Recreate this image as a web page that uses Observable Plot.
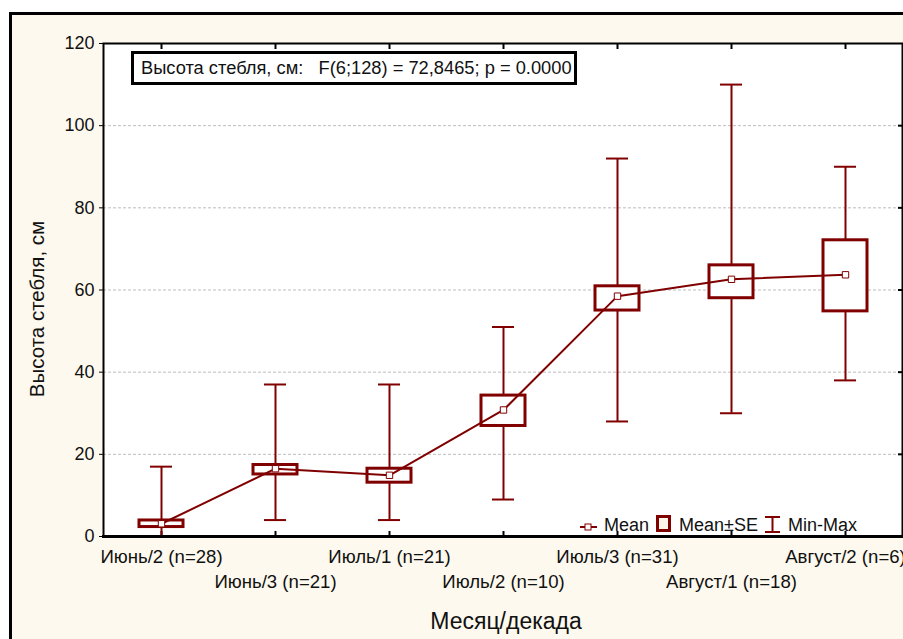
<!DOCTYPE html>
<html>
<head>
<meta charset="utf-8">
<script src="https://cdn.jsdelivr.net/npm/d3@7"></script>
<script src="https://cdn.jsdelivr.net/npm/@observablehq/plot@0.6"></script>
<style>
  html, body { margin: 0; padding: 0; background: #ffffff; }
  #wrap { position: relative; width: 903px; height: 639px; overflow: hidden; font-family: "Liberation Sans", Arial, sans-serif; }
  #backdrop { position: absolute; left: 9px; top: 12px; right: -10px; bottom: -10px; background: #fdf9ee; border-left: 3px solid #000; border-top: 3px solid #000; }
  #chart { position: absolute; left: 0; top: 0; }
  #note { position: absolute; left: 131px; top: 51px; width: 446px; height: 34px; box-sizing: border-box; border: 3px solid #000; background: #fff; font-size: 18.3px; line-height: 27px; padding-left: 7px; white-space: pre; color: #111; }
  .leg { position: absolute; font-size: 18px; color: #111; line-height: 18px; white-space: nowrap; }
  .legicon { position: absolute; }
</style>
</head>
<body>
<div id="wrap">
  <div id="backdrop"></div>
  <div id="chart"></div>
</div>
<script>
const categories = ["Июнь/2", "Июнь/3", "Июль/1", "Июль/2", "Июль/3", "Август/1", "Август/2"];
const counts = [28, 21, 21, 10, 31, 18, 6];
const means = [3.1, 16.5, 14.9, 30.8, 58.5, 62.6, 63.7];
const seLow = [2.3, 15.1, 13.1, 26.9, 55.0, 58.0, 54.8];
const seHigh = [3.9, 17.4, 16.5, 34.3, 60.9, 66.0, 72.1];
const mins = [0, 4, 4, 9, 28, 30, 38];
const maxs = [17, 37, 37, 51, 92, 110, 90];
const yTicks = [0, 20, 40, 60, 80, 100, 120];
const gridTicks = [20, 40, 60, 80, 100];
const annotation = "Высота стебля, см:   F(6;128) = 72,8465; p = 0.0000";
const xTitle = "Месяц/декада";
const yTitle = "Высота стебля, см";
const legendItems = ["Mean", "Mean±SE", "Min-Max"];

const maroon = "#800000";
const rows = categories.map((c, i) => ({
  cat: c, label: `${c} (n=${counts[i]})`, idx: i,
  mean: means[i], lo: seLow[i], hi: seHigh[i], min: mins[i], max: maxs[i]
}));

const chart = Plot.plot({
  width: 903,
  height: 639,
  marginLeft: 103,
  marginRight: 1,
  marginTop: 43,
  marginBottom: 103,
  style: { background: "transparent", fontFamily: "'Liberation Sans', Arial, sans-serif", color: "#111" },
  x: { type: "band", domain: categories, padding: 0, axis: null },
  y: { domain: [0, 120], axis: null },
  marks: [
    Plot.frame({ fill: "white" }),
    Plot.gridY(gridTicks, { stroke: "#bdbdbd", strokeOpacity: 1, strokeDasharray: "3,2" }),
    Plot.axisY(yTicks, { anchor: "left", tickSize: 4, tickPadding: 5, fontSize: 18, label: null, stroke: "#000" }),
    Plot.axisY(gridTicks, { anchor: "right", tickSize: -5, tickFormat: () => "", label: null, stroke: "#000", strokeWidth: 2 }),
    Plot.axisX({ anchor: "bottom", tickSize: -5, tickFormat: () => "", label: null, stroke: "#000", strokeWidth: 2 }),
    Plot.axisX({ anchor: "top", tickSize: -5, tickFormat: () => "", label: null, stroke: "#000", strokeWidth: 2 }),
    Plot.ruleX(rows, { x: "cat", y1: "min", y2: "max", stroke: maroon, strokeWidth: 2 }),
    Plot.tickY(rows, { x: "cat", y: "min", stroke: maroon, strokeWidth: 2, insetLeft: 46, insetRight: 46 }),
    Plot.tickY(rows, { x: "cat", y: "max", stroke: maroon, strokeWidth: 2, insetLeft: 46, insetRight: 46 }),
    Plot.barY(rows, { x: "cat", y1: "lo", y2: "hi", fill: "white", stroke: maroon, strokeWidth: 3, insetLeft: 35, insetRight: 35 }),
    Plot.line(rows, { x: "cat", y: "mean", stroke: maroon, strokeWidth: 2 }),
    Plot.dot(rows, { x: "cat", y: "mean", symbol: "square", r: 3.6, fill: "white", stroke: maroon, strokeWidth: 1 }),
    Plot.text(rows.filter(d => d.idx % 2 === 0), { x: "cat", text: "label", frameAnchor: "bottom", lineAnchor: "middle", dy: 21, fontSize: 18.6 }),
    Plot.text(rows.filter(d => d.idx % 2 === 1), { x: "cat", text: "label", frameAnchor: "bottom", lineAnchor: "middle", dy: 46, fontSize: 18.6 }),
    Plot.text([xTitle], { text: d => d, frameAnchor: "bottom", lineAnchor: "middle", dx: 3, dy: 85, fontSize: 23, letterSpacing: "1.3px" }),
    Plot.text([yTitle], { text: d => d, frameAnchor: "left", textAnchor: "middle", lineAnchor: "middle", rotate: -90, dx: -66, dy: 19, fontSize: 20.5 }),
    Plot.frame({ stroke: "#000", strokeWidth: 2 }),
    Plot.frame({ anchor: "bottom", stroke: "#000", strokeWidth: 3 })
  ]
});
document.getElementById("chart").appendChild(chart);

const wrap = document.getElementById("wrap");
const note = document.createElement("div");
note.id = "note";
note.textContent = annotation;
wrap.appendChild(note);

// Legend
function addText(t, left) {
  const d = document.createElement("div");
  d.className = "leg";
  d.style.left = left + "px";
  d.style.top = "516px";
  d.textContent = t;
  wrap.appendChild(d);
}
function addIcon(svg, left, top) {
  const d = document.createElement("div");
  d.className = "legicon";
  d.style.left = left + "px";
  d.style.top = top + "px";
  d.innerHTML = svg;
  wrap.appendChild(d);
}
addIcon(`<svg width="20" height="10"><line x1="1" y1="5" x2="18" y2="5" stroke="${maroon}" stroke-width="2"/><rect x="6" y="2" width="6" height="6" fill="white" stroke="${maroon}" stroke-width="1"/></svg>`, 579, 518);
addText(legendItems[0], 604);
addIcon(`<svg width="16" height="18"><rect x="1.5" y="1.5" width="12" height="14" fill="#fdf6e8" stroke="${maroon}" stroke-width="3"/></svg>`, 656, 515);
addText(legendItems[1], 679);
addIcon(`<svg width="18" height="18"><line x1="1" y1="1" x2="16" y2="1" stroke="${maroon}" stroke-width="2"/><line x1="1" y1="16" x2="16" y2="16" stroke="${maroon}" stroke-width="2"/><line x1="8.5" y1="1" x2="8.5" y2="16" stroke="${maroon}" stroke-width="2"/></svg>`, 764, 516);
addText(legendItems[2], 788);
</script>
</body>
</html>
